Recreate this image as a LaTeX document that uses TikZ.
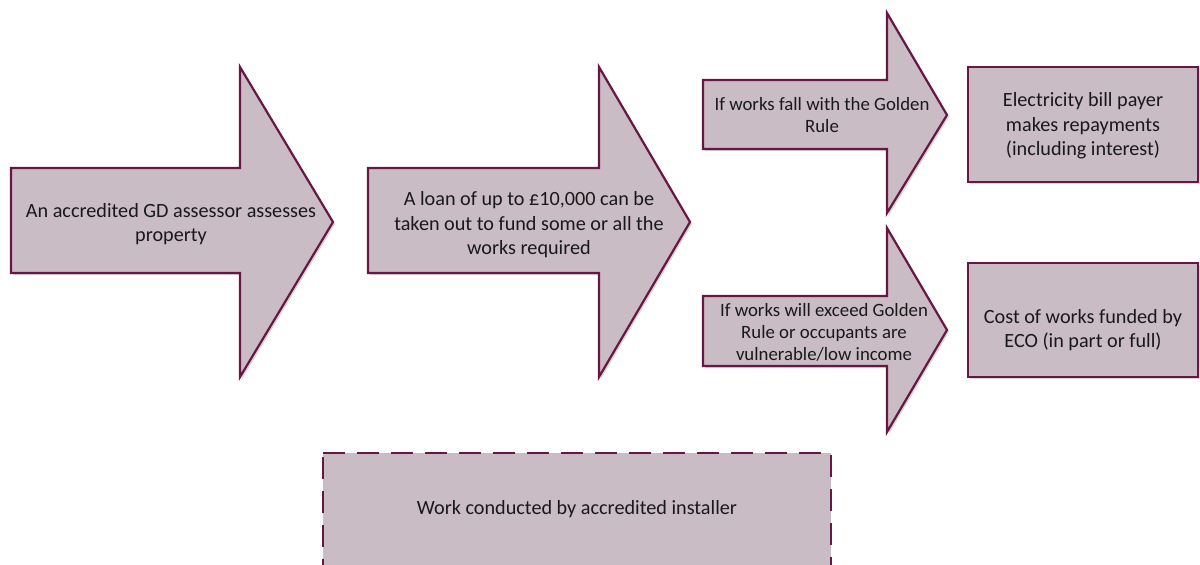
\documentclass[tikz,border=0pt]{standalone}
\usepackage{fontspec}
\setmainfont{Carlito}
\definecolor{boxfill}{RGB}{201,188,196}
\definecolor{boxline}{RGB}{104,22,68}
\definecolor{shade}{RGB}{215,215,215}
\begin{document}
\begin{tikzpicture}[x=1pt,y=-1pt,
  mshape/.style={fill=boxfill,draw=boxline,line width=2.2pt,line join=miter},
  shadowed/.style={fill=shade,draw=none},
  big/.style={font=\fontsize{20.2}{24.5}\selectfont,align=center,text=black!90},
  small/.style={font=\fontsize{18.8}{22}\selectfont,align=center,text=black!90},
  dashbox/.style={fill=boxfill,draw=boxline,line width=2.8pt,dash pattern=on 22pt off 12pt}
]
\useasboundingbox (0,0) rectangle (1200,565);
% arrow 1
\fill[shadowed] (13,170) -- (242,170) -- (242,69) -- (335,224) -- (242,379) -- (242,275) -- (13,275) -- cycle;
\draw[mshape] (11,168) -- (240,168) -- (240,67) -- (333,222) -- (240,377) -- (240,273) -- (11,273) -- cycle;
\node[big] (a1) at (171,224) {An accredited GD assessor assesses\\property};
% arrow 2
\fill[shadowed] (370,170) -- (601,170) -- (601,69) -- (692,224) -- (601,379) -- (601,275) -- (370,275) -- cycle;
\draw[mshape] (368,168) -- (599,168) -- (599,67) -- (690,222) -- (599,377) -- (599,273) -- (368,273) -- cycle;
\node[big] (a2) at (529,225) {A loan of up to £10,000 can be\\taken out to fund some or all the\\works required};
% arrow 3
\fill[shadowed] (705,82) -- (889,82) -- (889,15) -- (949,117) -- (889,215) -- (889,151) -- (705,151) -- cycle;
\draw[mshape] (703,80) -- (887,80) -- (887,13) -- (947,115) -- (887,213) -- (887,149) -- (703,149) -- cycle;
\node[small] (a3) at (822,115) {If works fall with the Golden\\Rule};
% arrow 4
\fill[shadowed] (705,298) -- (889,298) -- (889,230) -- (949,332) -- (889,434) -- (889,368) -- (705,368) -- cycle;
\draw[mshape] (703,296) -- (887,296) -- (887,228) -- (947,330) -- (887,432) -- (887,366) -- (703,366) -- cycle;
\node[small] (a4) at (824,332) {If works will exceed Golden\\Rule or occupants are\\vulnerable/low income};
% boxes
\fill[shadowed] (970,69) rectangle (1200,184);
\draw[mshape] (968,67) rectangle (1198,182);
\node[big] (b1) at (1083,126) {Electricity bill payer\\makes repayments\\(including interest)};
\fill[shadowed] (970,265) rectangle (1200,379);
\draw[mshape] (968,263) rectangle (1198,377);
\node[big] (b2) at (1083,330) {Cost of works funded by\\ECO (in part or full)};
% dashed box
\draw[dashbox] (323,453) -- (831,453) -- (831,570) -- (323,570) -- cycle;
\node[big] (w) at (577,509) {Work conducted by accredited installer};
\end{tikzpicture}
\end{document}
